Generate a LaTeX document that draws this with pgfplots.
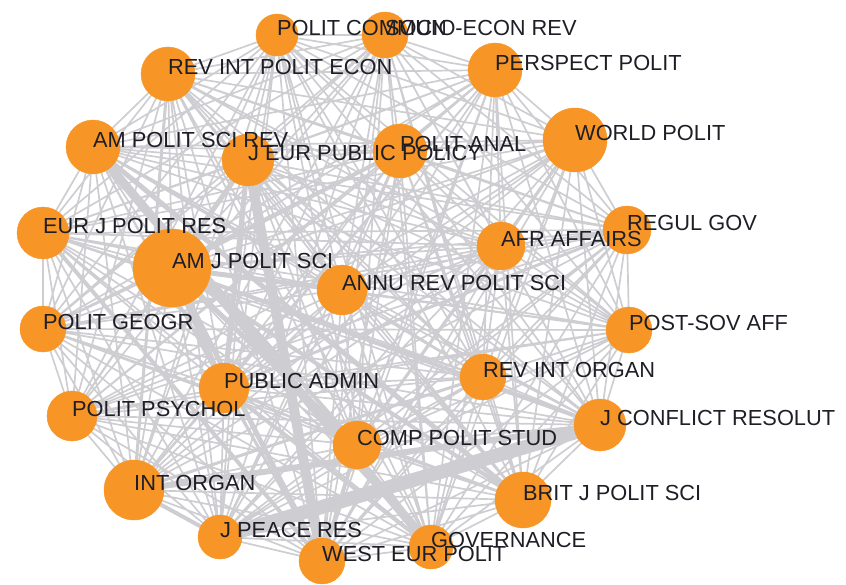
\documentclass[border=0pt]{standalone}
\usepackage{pgfplots}
\usepackage{pgfplotstable}
\pgfplotsset{compat=1.18}
\usepackage{fontspec}
\setmainfont{Liberation Sans}

\definecolor{nodeor}{RGB}{247,150,38}
\definecolor{edgecol}{RGB}{206,206,210}
\definecolor{labelc}{RGB}{30,30,38}
\newcommand\labelfont{\fontsize{21.8}{24}\selectfont}

% node positions in pixels (y grows downwards), r = circle radius
\pgfplotstableread[col sep=comma]{
x,y,r,label
277,35,21,POLIT COMMUN
385,35,23,SOCIO-ECON REV
168,74,27,REV INT POLIT ECON
495,70,27,PERSPECT POLIT
93,147,27,AM POLIT SCI REV
248,160,26,J EUR PUBLIC POLICY
400,151,27,POLIT ANAL
575,140,32,WORLD POLIT
43,233,26,EUR J POLIT RES
627,230,24,REGUL GOV
501,246,24,AFR AFFAIRS
172,268,39,AM J POLIT SCI
342,290,25,ANNU REV POLIT SCI
43,329,23,POLIT GEOGR
629,330,23,POST-SOV AFF
224,388,25,PUBLIC ADMIN
483,377,23,REV INT ORGAN
72,416,25,POLIT PSYCHOL
600,425,26,J CONFLICT RESOLUT
357,445,24,COMP POLIT STUD
134,490,30,INT ORGAN
523,500,28,BRIT J POLIT SCI
220,537,22,J PEACE RES
431,547,22,GOVERNANCE
322,561,23,WEST EUR POLIT
}\nodes

% heavier links: node index a, node index b, width in px
\pgfplotstableread{
a b w
18 22 14
5 24 10
4 23 9
18 20 6
11 15 6
11 19 5
4 21 5
11 5 5
11 6 4
11 12 5
11 21 4
11 24 5
4 19 4
5 15 5
15 23 4
19 24 4
8 24 4
22 20 4
11 18 4
15 9 3
7 19 3
2 20 3
20 16 3
}\edges

% all pairs, thin
\def\edgecoords{}
\foreach \i in {0,...,23}{%
  \pgfmathtruncatemacro\jfirst{\i+1}%
  \pgfplotstablegetelem{\i}{x}\of\nodes \let\xa\pgfplotsretval
  \pgfplotstablegetelem{\i}{y}\of\nodes \let\ya\pgfplotsretval
  \foreach \j in {\jfirst,...,24}{%
    \pgfplotstablegetelem{\j}{x}\of\nodes \let\xb\pgfplotsretval
    \pgfplotstablegetelem{\j}{y}\of\nodes \let\yb\pgfplotsretval
    \xdef\edgecoords{\edgecoords (\xa,\ya) (\xb,\yb) (nan,nan)}%
  }%
}

% weighted links, one plot each
\def\thickedges{}
\pgfplotstablegetrowsof{\edges}
\pgfmathtruncatemacro\nlastedge{\pgfplotsretval-1}
\foreach \k in {0,...,\nlastedge}{%
  \pgfplotstablegetelem{\k}{a}\of\edges \let\ia\pgfplotsretval
  \pgfplotstablegetelem{\k}{b}\of\edges \let\ib\pgfplotsretval
  \pgfplotstablegetelem{\k}{w}\of\edges \let\lw\pgfplotsretval
  \pgfplotstablegetelem{\ia}{x}\of\nodes \let\xa\pgfplotsretval
  \pgfplotstablegetelem{\ia}{y}\of\nodes \let\ya\pgfplotsretval
  \pgfplotstablegetelem{\ib}{x}\of\nodes \let\xb\pgfplotsretval
  \pgfplotstablegetelem{\ib}{y}\of\nodes \let\yb\pgfplotsretval
  \xdef\thickedges{\unexpanded\expandafter{\thickedges}%
    \noexpand\addplot[edgecol, line width=\lw pt, forget plot] coordinates {(\xa,\ya) (\xb,\yb)};}%
}

\def\thinplot{\addplot[edgecol, line width=1.7pt, unbounded coords=jump, forget plot] coordinates}

\begin{document}
\begin{tikzpicture}
\begin{axis}[
  width=846pt, height=585pt, scale only axis,
  xmin=0, xmax=846, ymin=0, ymax=585,
  y dir=reverse,
  hide axis,
  clip=false,
]
  \expandafter\thinplot\expandafter{\edgecoords};
  \thickedges

  \addplot[scatter, only marks, mark=*,
    point meta=\thisrow{r},
    scatter/use mapped color={draw=nodeor, fill=nodeor},
    visualization depends on={\thisrow{r} \as \rad},
    scatter/@pre marker code/.append style={/tikz/mark size=\rad}]
    table[x=x, y=y] \nodes;

  \addplot[only marks, mark=*, mark size=0pt, mark options={draw=none, fill=none},
    nodes near coords, point meta=explicit symbolic,
    nodes near coords style={anchor=west, inner sep=0pt, yshift=7pt,
      text=labelc, font=\labelfont}]
    table[x=x, y=y, meta=label] \nodes;
\end{axis}
\path (current axis.south west) rectangle (current axis.north east);
\end{tikzpicture}
\end{document}
